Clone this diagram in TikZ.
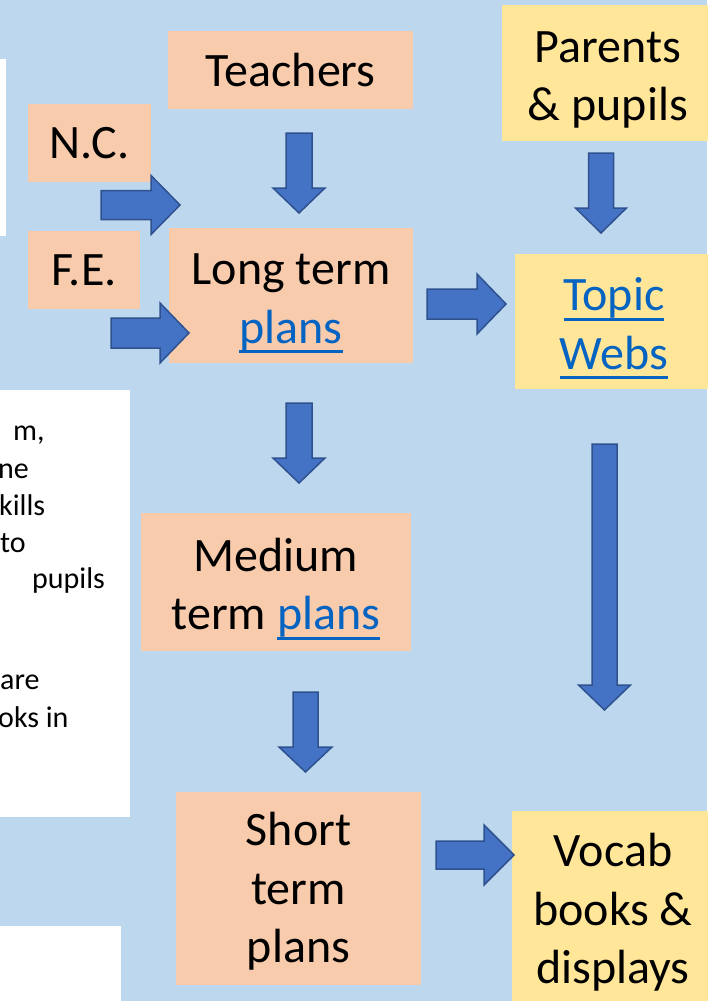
\documentclass[tikz,border=0pt]{standalone}
\usepackage{fontspec}
\setmainfont{Carlito}
\usetikzlibrary{calc}

\definecolor{bgblue}{HTML}{BDD7EE}
\definecolor{salmon}{HTML}{F8CBAD}
\definecolor{sand}{HTML}{FFE699}
\definecolor{arrowfill}{HTML}{4472C4}
\definecolor{arrowline}{HTML}{2F528F}
\definecolor{linkblue}{HTML}{0563C1}

\newcommand\bigtext{\fontsize{48}{58.5}\selectfont}
\newcommand\notetext{\fontsize{30}{37}\selectfont}
% extra room above the first line, pushes a multi-line label down a little
\newcommand\lowerby[1]{\rule{0pt}{\dimexpr 35pt+#1*2\relax}}
% hyperlink-looking text: blue with a solid underline
\newcommand\weblink[1]{{\color{linkblue}\setbox0\hbox{#1}\rlap{\rule[-10pt]{\wd0}{3pt}}\box0}}

% block arrow: #1 back centre, #2 tip, #3 half shaft width, #4 half head width, #5 head length
\newcommand\fatarrow[5]{%
  \draw[blockarrow]
    ($(#1)!#3!90:(#2)$) --
    ($(#2)!#5!(#1)!#3!-90:(#1)$) --
    ($(#2)!#5!(#1)!#4!-90:(#1)$) --
    (#2) --
    ($(#2)!#5!(#1)!#4!90:(#1)$) --
    ($(#2)!#5!(#1)!#3!90:(#1)$) --
    ($(#1)!#3!-90:(#2)$) -- cycle;}

\tikzset{
  box/.style={inner sep=0pt, align=center, font=\bigtext},
  stage/.style={box, fill=salmon},
  source/.style={box, fill=sand},
  notebox/.style={fill=white},
  noteline/.style={anchor=base west, inner sep=0pt, font=\notetext},
  blockarrow/.style={fill=arrowfill, draw=arrowline, line width=1.5pt, line join=miter},
}

\begin{document}
\begin{tikzpicture}[x=1pt, y=-1pt]
  % canvas
  \fill[bgblue] (0,0) rectangle (707,1001);
  \useasboundingbox (0,0) rectangle (707,1001);

  % white text panels on the left edge
  \fill[notebox] (0,59) rectangle (6,236);
  \fill[notebox] (0,390) rectangle (130,817);
  \fill[notebox] (0,926) rectangle (121,1001);
  \begin{scope}
    \clip (0,390) rectangle (130,817);
    \node[noteline] (l1) at (13,440) {m,};
    \node[noteline] (l2) at (-2,478) {ne};
    \node[noteline] (l3) at (-1,515) {kills};
    \node[noteline] (l4) at (0,552) {to};
    \node[noteline] (l5) at (32,588) {pupils};
    \node[noteline] (l6) at (0,689) {are};
    \node[noteline] (l7) at (-2,727) {oks in};
  \end{scope}

  % planning stages
  \node[stage, minimum width=245pt, minimum height=78pt]  (teachers) at (290.5,70) {Teachers};
  \node[stage, minimum width=123pt, minimum height=78pt]  (nc) at (89.5,143) {N.C.};
  \node[stage, minimum width=112pt, minimum height=78pt]  (fe) at (84,270) {F.E.};
  \node[stage, minimum width=244pt, minimum height=135pt] (long) at (291,295.5) {\lowerby{6pt}Long term\\\weblink{plans}};
  \node[stage, minimum width=270pt, minimum height=138pt] (medium) at (276,582) {\lowerby{6pt}Medium\\term \weblink{plans}};
  \node[stage, minimum width=245pt, minimum height=193pt] (short) at (298.5,888.5) {\lowerby{2pt}Short\\term\\plans};

  % sources and outcomes
  \node[source, minimum width=212pt, minimum height=136pt] (parents) at (608,73) {\lowerby{5pt}Parents\\\& pupils};
  \node[source, minimum width=198pt, minimum height=135pt] (topic) at (614,321.5) {\lowerby{6pt}\weblink{Topic}\\\weblink{Webs}};
  \node[source, minimum width=202pt, minimum height=203pt] (vocab) at (613,912.5) {Vocab\\books \&\\displays};

  % arrow end points
  \coordinate (nc-a) at (101,205);   \coordinate (nc-b) at (180,205);
  \coordinate (fe-a) at (111,333);   \coordinate (fe-b) at (189,333);
  \coordinate (te-a) at (299,133);   \coordinate (te-b) at (299,213);
  \coordinate (lm-a) at (299,403);   \coordinate (lm-b) at (299,483);
  \coordinate (ms-a) at (305.5,692); \coordinate (ms-b) at (305.5,772);
  \coordinate (pp-a) at (601,153);   \coordinate (pp-b) at (601,233);
  \coordinate (lt-a) at (427,304);   \coordinate (lt-b) at (506,304);
  \coordinate (tv-a) at (604.5,444); \coordinate (tv-b) at (604.5,710);
  \coordinate (sv-a) at (436,855);   \coordinate (sv-b) at (514,855);

  \fatarrow{nc-a}{nc-b}{14.5pt}{29.5pt}{29pt}
  \fatarrow{fe-a}{fe-b}{15pt}{30pt}{29pt}
  \fatarrow{te-a}{te-b}{13pt}{26pt}{25pt}
  \fatarrow{lm-a}{lm-b}{13pt}{26pt}{25pt}
  \fatarrow{ms-a}{ms-b}{12.5pt}{26.5pt}{25pt}
  \fatarrow{pp-a}{pp-b}{12.5pt}{25.5pt}{25pt}
  \fatarrow{lt-a}{lt-b}{15pt}{30pt}{29pt}
  \fatarrow{tv-a}{tv-b}{12.5pt}{26pt}{25pt}
  \fatarrow{sv-a}{sv-b}{14pt}{30pt}{30pt}
\end{tikzpicture}
\end{document}
